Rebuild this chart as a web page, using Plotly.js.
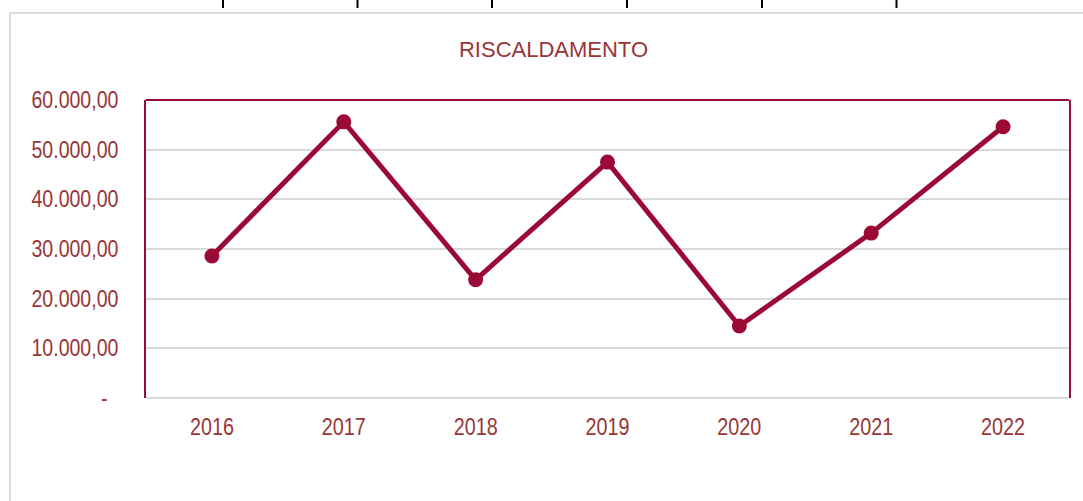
<!DOCTYPE html>
<html>
<head>
<meta charset="utf-8">
<script src="https://cdn.plot.ly/plotly-3.0.1.min.js"></script>
<style>
html,body{margin:0;padding:0;background:#fff;overflow:hidden;}
#chart{width:1083px;height:501px;}
</style>
</head>
<body>
<div id="chart"></div>
<script>
const years = ["2016","2017","2018","2019","2020","2021","2022"];
const values = [28600, 55600, 23800, 47500, 14500, 33200, 54600];
const yTickVals = [0, 10000, 20000, 30000, 40000, 50000, 60000];
const yTickText = ["-\u00a0\u00a0", "10.000,00", "20.000,00", "30.000,00", "40.000,00", "50.000,00", "60.000,00"];
const chartTitle = "RISCALDAMENTO";

const lineColor = "#9b0a37";
const textColor = "#993537";
const fontFam = "'Liberation Sans Narrow', 'Arial Narrow', 'Liberation Sans', Arial, sans-serif";

const W = 1083, H = 501;
const L = 146, R = 1069, T = 100, B = 398;
const px = x => (x - L) / (R - L);
const py = y => (B - y) / (B - T);

const topTicks = [223, 357.5, 492, 627, 762, 896.5];
const shapes = [
  {type:'rect', xref:'paper', yref:'paper', x0:px(10), x1:px(1200), y0:py(13), y1:py(700),
   line:{color:'#dcdcdc', width:2}, fillcolor:'rgba(0,0,0,0)', layer:'below'},
  {type:'line', xref:'paper', yref:'paper', x0:0, x1:1, y0:1, y1:1, line:{color:lineColor, width:2}}
];
topTicks.forEach(t => shapes.push({type:'line', xref:'paper', yref:'paper', x0:px(t), x1:px(t), y0:py(0), y1:py(8), line:{color:'#000', width:2}}));

const trace = {
  x: years, y: values, type:'scatter', mode:'lines+markers',
  line:{color:lineColor, width:5},
  marker:{color:lineColor, size:15},
  cliponaxis:false, hoverinfo:'skip'
};

const layout = {
  width:W, height:H,
  margin:{l:L, r:W-R, t:T, b:H-B, pad:0},
  paper_bgcolor:'#fff', plot_bgcolor:'#fff',
  showlegend:false,
  title:{text:chartTitle, font:{family:fontFam, size:22, color:textColor}, x:(461+646)/2/W, xanchor:'center', y:1-49/H, yanchor:'middle', xref:'container', yref:'container'},
  font:{family:fontFam, color:textColor},
  xaxis:{type:'category', range:[-0.5, 6.5], showgrid:false, zeroline:false, showline:false,
    ticks:'outside', ticklen:8, tickcolor:'rgba(0,0,0,0)', tickfont:{family:fontFam, size:23, color:textColor}, fixedrange:true},
  yaxis:{range:[0, 60000], tickvals:yTickVals, ticktext:yTickText, showgrid:true, gridcolor:'#d9d9d9', gridwidth:2,
    zeroline:true, zerolinecolor:'#d9d9d9', zerolinewidth:2,
    showline:true, mirror:true, linecolor:lineColor, linewidth:2,
    ticks:'outside', ticklen:21, tickcolor:'rgba(0,0,0,0)', tickfont:{family:fontFam, size:23, color:textColor}, fixedrange:true},
  shapes:shapes
};

function condense(sel, s) {
  document.querySelectorAll(sel).forEach(t => {
    const x = parseFloat(t.getAttribute('x')) || 0;
    const tr = t.getAttribute('transform') || '';
    t.setAttribute('transform', tr + ` translate(${x},0) scale(${s},1) translate(${-x},0)`);
  });
}

Plotly.newPlot('chart', [trace], layout, {displayModeBar:false, staticPlot:true}).then(() => {
  condense('#chart .xtick text', 0.86);
  condense('#chart .ytick text', 0.85);
});
</script>
</body>
</html>
